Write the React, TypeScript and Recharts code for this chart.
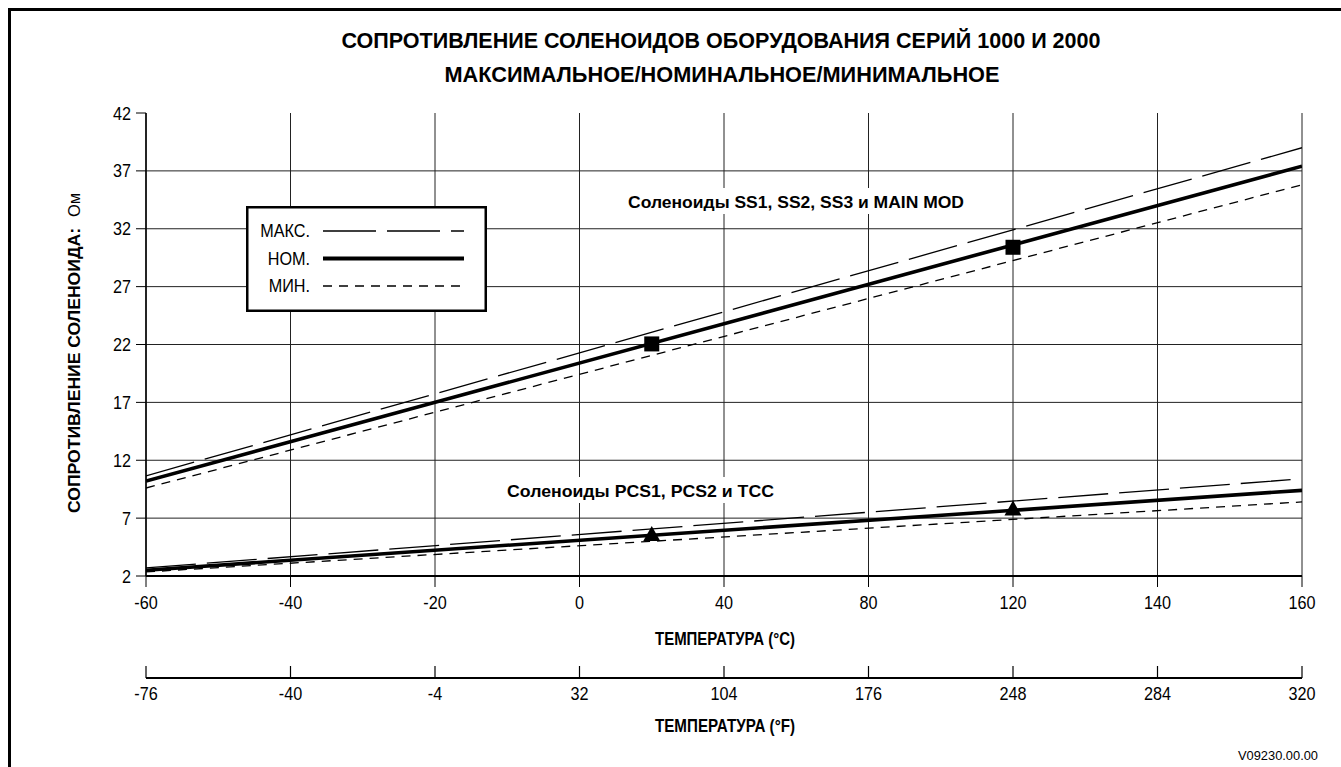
import {
  ComposedChart,
  Line,
  Scatter,
  XAxis,
  YAxis,
  CartesianGrid,
  Label,
} from 'recharts'

const FONT = '"Liberation Sans", Arial, sans-serif'

// evenly spaced scale positions (the printed scale is not linear)
const tickPositions = [0, 1, 2, 3, 4, 5, 6, 7, 8]
const celsiusLabels = ['-60', '-40', '-20', '0', '40', '80', '120', '140', '160']
const fahrenheitLabels = ['-76', '-40', '-4', '32', '104', '176', '248', '284', '320']
const resistanceTicks = [2, 7, 12, 17, 22, 27, 32, 37, 42]
const gridRows = [2, 7, 12, 17, 22, 27, 32, 37]

// SS1, SS2, SS3 и MAIN MOD
const ssMax = [{ t: 0, r: 10.65 }, { t: 8, r: 39.0 }]
const ssNom = [{ t: 0, r: 10.2 }, { t: 8, r: 37.4 }]
const ssMin = [{ t: 0, r: 9.6 }, { t: 8, r: 35.8 }]
const ssMarkers = [{ t: 3.5, r: 22.05 }, { t: 6, r: 30.4 }]

// PCS1, PCS2 и TCC
const pcsMax = [{ t: 0, r: 2.7 }, { t: 7.95, r: 10.35 }]
const pcsNom = [{ t: 0, r: 2.5 }, { t: 8, r: 9.4 }]
const pcsMin = [{ t: 0, r: 2.35 }, { t: 8, r: 8.4 }]
const pcsMarkers = [{ t: 3.5, r: 5.55 }, { t: 6, r: 7.75 }]

const legendItems = [
  { name: 'МАКС.', dash: '53 11', width: 1.3 },
  { name: 'НОМ.', dash: undefined, width: 4 },
  { name: 'МИН.', dash: '9 7', width: 1.3 },
]

// eslint-disable-next-line @typescript-eslint/no-explicit-any
function FitText({ x, y, len, size, bold, anchor = 'start', children }: any) {
  return (
    <text
      x={x}
      y={y}
      fontFamily={FONT}
      fontSize={size}
      fontWeight={bold ? 700 : 400}
      textAnchor={anchor}
      textLength={len}
      lengthAdjust="spacingAndGlyphs"
      fill="#000"
    >
      {children}
    </text>
  )
}

// eslint-disable-next-line @typescript-eslint/no-explicit-any
function TickText({ x, y, anchor = 'middle', children }: any) {
  return (
    <text
      transform={`translate(${x},${y}) scale(0.9,1)`}
      textAnchor={anchor}
      fontFamily={FONT}
      fontSize={18}
      fill="#000"
    >
      {children}
    </text>
  )
}

// eslint-disable-next-line @typescript-eslint/no-explicit-any
function CelsiusTick({ x, y, payload }: any) {
  return (
    <g>
      <line x1={x} x2={x} y1={y} y2={y + 11} stroke="#000" strokeWidth={1} />
      <TickText x={x} y={y + 32.5}>{celsiusLabels[payload.value]}</TickText>
    </g>
  )
}

// eslint-disable-next-line @typescript-eslint/no-explicit-any
function FahrenheitTick({ x, y, payload }: any) {
  return (
    <g>
      <line x1={x} x2={x} y1={y - 12} y2={y} stroke="#000" strokeWidth={1.2} />
      <TickText x={x} y={y + 21.5}>{fahrenheitLabels[payload.value]}</TickText>
    </g>
  )
}

// eslint-disable-next-line @typescript-eslint/no-explicit-any
function ResistanceTick({ x, y, payload }: any) {
  return (
    <TickText x={x} y={y + 6.5} anchor="end">
      {payload.value}
    </TickText>
  )
}

// eslint-disable-next-line @typescript-eslint/no-explicit-any
function Square({ cx, cy }: any) {
  return <rect x={cx - 7.5} y={cy - 7.5} width={15} height={15} fill="#000" />
}

// eslint-disable-next-line @typescript-eslint/no-explicit-any
function Triangle({ cx, cy }: any) {
  return <path d={`M${cx},${cy - 9} L${cx + 8.5},${cy + 6} L${cx - 8.5},${cy + 6} Z`} fill="#000" />
}

const lineProps = {
  type: 'linear' as const,
  dataKey: 'r',
  stroke: '#000',
  dot: false,
  activeDot: false,
  isAnimationActive: false,
  legendType: 'none' as const,
}

export default function App() {
  return (
    <div style={{ position: 'absolute', left: 0, top: 0, width: 1341, height: 767, background: '#fff', overflow: 'hidden' }}>
      <ComposedChart
        width={1341}
        height={767}
        margin={{ top: 113, right: 39, bottom: 29, left: 0 }}
        style={{ position: 'absolute', left: 0, top: 0 }}
      >
        <CartesianGrid stroke="#222" strokeWidth={1} horizontalValues={gridRows} verticalValues={tickPositions} />
        <XAxis
          type="number"
          dataKey="t"
          domain={[0, 8]}
          allowDataOverflow
          ticks={tickPositions}
          height={102}
          tickSize={0}
          tickMargin={0}
          tick={<CelsiusTick />}
          axisLine={{ stroke: '#000', strokeWidth: 2 }}
          tickLine={false}
          interval={0}
        >
          <Label
            content={({ viewBox }: any) => (
              <FitText x={viewBox.x + viewBox.width / 2 + 1} y={viewBox.y + 69} len={140} size={18} bold anchor="middle">
                ТЕМПЕРАТУРА (°C)
              </FitText>
            )}
          />
        </XAxis>
        <XAxis
          xAxisId="f"
          type="number"
          dataKey="t"
          domain={[0, 8]}
          allowDataOverflow
          ticks={tickPositions}
          height={60}
          tickSize={0}
          tickMargin={0}
          tick={<FahrenheitTick />}
          axisLine={{ stroke: '#000', strokeWidth: 2 }}
          tickLine={false}
          interval={0}
        >
          <Label
            content={({ viewBox }: any) => (
              <FitText x={viewBox.x + viewBox.width / 2 + 1} y={viewBox.y + 54} len={140} size={18} bold anchor="middle">
                ТЕМПЕРАТУРА (°F)
              </FitText>
            )}
          />
        </XAxis>
        <YAxis
          type="number"
          domain={[2, 42]}
          allowDataOverflow
          ticks={resistanceTicks}
          width={146}
          tickSize={10}
          tickMargin={5}
          interval={0}
          axisLine={{ stroke: '#000', strokeWidth: 1.5 }}
          tickLine={{ stroke: '#000' }}
          tick={<ResistanceTick />}
        >
          <Label
            content={() => (
              <g>
                <g transform="translate(80,513) rotate(-90)">
                  <FitText x={0} y={0} len={285} size={17} bold>
                    СОПРОТИВЛЕНИЕ СОЛЕНОИДА:
                  </FitText>
                </g>
                <g transform="translate(80,217) rotate(-90)">
                  <FitText x={0} y={0} len={24} size={17}>
                    Ом
                  </FitText>
                </g>
              </g>
            )}
          />
        </YAxis>

        <Line {...lineProps} name="ssMax" data={ssMax} strokeWidth={1.3} strokeDasharray="50 11" />
        <Line {...lineProps} name="ssNom" data={ssNom} strokeWidth={3.6} />
        <Line {...lineProps} name="ssMin" data={ssMin} strokeWidth={1.3} strokeDasharray="9 7" />
        <Line {...lineProps} name="pcsMax" data={pcsMax} strokeWidth={1.3} strokeDasharray="50 11" />
        <Line {...lineProps} name="pcsNom" data={pcsNom} strokeWidth={3.6} />
        <Line {...lineProps} name="pcsMin" data={pcsMin} strokeWidth={1.3} strokeDasharray="9 7" />
        {/* keeps the °F axis bound to data so its ticks are drawn */}
        <Line {...lineProps} xAxisId="f" name="fRef" data={ssNom} stroke="none" strokeWidth={0} />
        <Scatter data={ssMarkers} dataKey="r" shape={<Square />} isAnimationActive={false} legendType="none" />
        <Scatter data={pcsMarkers} dataKey="r" shape={<Triangle />} isAnimationActive={false} legendType="none" />
      </ComposedChart>

      <svg
        width={1341}
        height={767}
        style={{ position: 'absolute', left: 0, top: 0, pointerEvents: 'none' }}
      >
        {/* frame */}
        <path d="M9.5,767 L9.5,9.5 L1341,9.5" fill="none" stroke="#000" strokeWidth={3} />

        {/* title */}
        <FitText x={721} y={48} len={759} size={22} bold anchor="middle">
          СОПРОТИВЛЕНИЕ СОЛЕНОИДОВ ОБОРУДОВАНИЯ СЕРИЙ 1000 И 2000
        </FitText>
        <FitText x={722} y={82} len={555} size={22} bold anchor="middle">
          МАКСИМАЛЬНОЕ/НОМИНАЛЬНОЕ/МИНИМАЛЬНОЕ
        </FitText>

        {/* legend */}
        <g transform="translate(246,206)">
          <rect x={1.25} y={1.25} width={238.5} height={103.5} fill="#fff" stroke="#000" strokeWidth={2.5} />
          {legendItems.map((it, i) => (
            <g key={it.name}>
              <text
                transform={`translate(64,${31 + i * 27.5}) scale(0.9,1)`}
                textAnchor="end"
                fontFamily={FONT}
                fontSize={18}
                fill="#000"
              >
                {it.name}
              </text>
              <line
                x1={77}
                x2={218}
                y1={25 + i * 27.5}
                y2={25 + i * 27.5}
                stroke="#000"
                strokeWidth={it.width}
                strokeDasharray={it.dash}
              />
            </g>
          ))}
        </g>

        {/* series notes */}
        <rect x={623} y={188} width={346} height={26} fill="#fff" />
        <FitText x={628} y={208} len={336} size={17} bold>
          Соленоиды SS1, SS2, SS3 и MAIN MOD
        </FitText>
        <rect x={502} y={477} width={277} height={26} fill="#fff" />
        <FitText x={507} y={496.5} len={267} size={17} bold>
          Соленоиды PCS1, PCS2 и TCC
        </FitText>

        <FitText x={1318} y={760} len={80} size={13} anchor="end">
          V09230.00.00
        </FitText>
      </svg>
    </div>
  )
}
